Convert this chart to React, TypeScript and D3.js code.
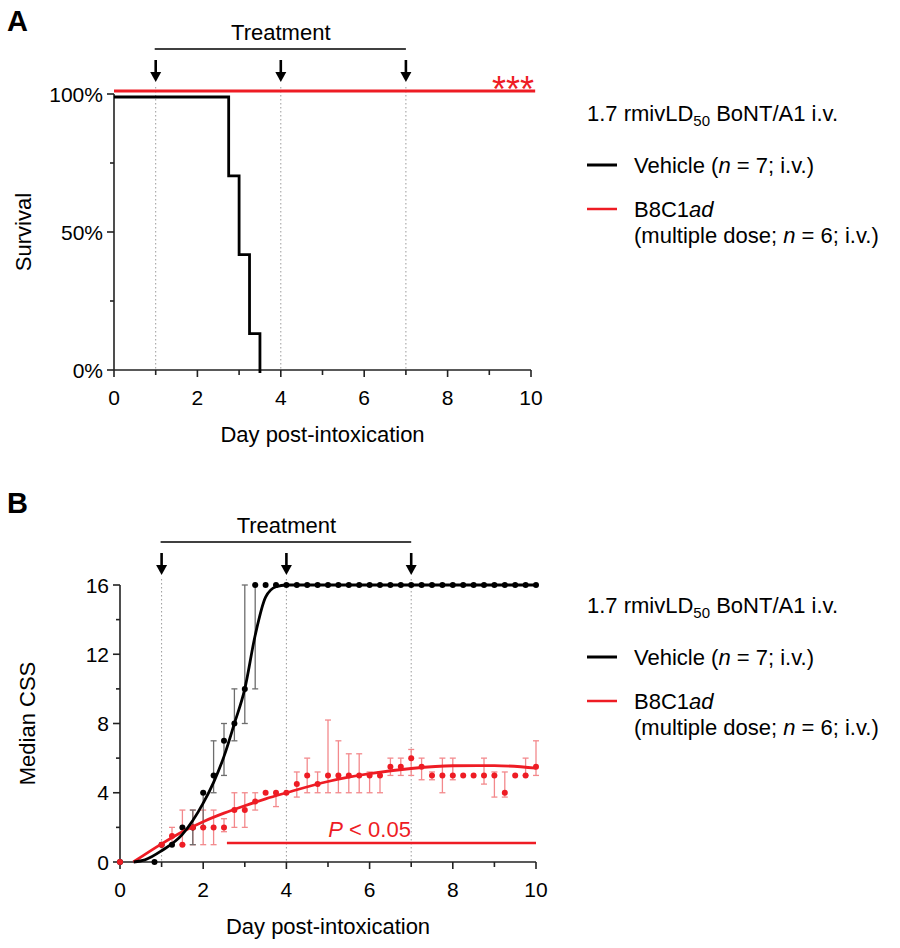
import React from "react";
import * as d3 from "d3";

const FONT = "'Liberation Sans', Arial, Helvetica, sans-serif";
const RED = "#ee1c24";
const RED_LIGHT = "#f3898c";
const GREY = "#6d6d6d";

// shared
const treatmentDays = [1, 4, 7];
const xTicks = [0, 2, 4, 6, 8, 10];
const xMinor = [1, 3, 5, 7, 9];

// Panel A – survival
const survTimes = [0, 2.75, 3.0, 3.25, 3.5];
const survVehicle = [100, 71.43, 42.86, 14.29, 0];
const survB8Times = [0, 10.1];
const survB8 = [100, 100];
const survTicks = [0, 50, 100];
const survMinor = [25, 75];

// Panel B – median CSS
const vehDays = [0, 0.83, 1, 1.25, 1.5, 1.75, 2, 2.25, 2.5, 2.75, 3, 3.25, 3.5, 3.75, 4, 4.25, 4.5, 4.75, 5, 5.25, 5.5, 5.75, 6, 6.25, 6.5, 6.75, 7, 7.25, 7.5, 7.75, 8, 8.25, 8.5, 8.75, 9, 9.25, 9.5, 9.75, 10];
const vehCSS = [0, 0, 1, 1, 2, 2, 4, 5, 7, 8, 10, 16, 16, 16, 16, 16, 16, 16, 16, 16, 16, 16, 16, 16, 16, 16, 16, 16, 16, 16, 16, 16, 16, 16, 16, 16, 16, 16, 16];
const vehErrDays = [1.75, 2, 2.25, 2.5, 2.75, 3, 3.25];
const vehErrLo = [1, 2, 4, 5, 7, 8, 10];
const vehErrHi = [3, 4, 7, 8, 10, 16, 16];
const vehFitDays = [0.33, 0.6, 1, 1.5, 2, 2.25, 2.5, 2.75, 3, 3.25, 3.5, 3.75, 4, 10];
const vehFit = [0, 0.12, 0.65, 1.6, 3.4, 4.6, 6.1, 8.0, 10.0, 13.1, 15.3, 15.9, 16, 16];

const b8Days = [0, 1, 1.25, 1.5, 1.75, 2, 2.25, 2.5, 2.75, 3, 3.25, 3.5, 3.75, 4, 4.25, 4.5, 4.75, 5, 5.25, 5.5, 5.75, 6, 6.25, 6.5, 6.75, 7, 7.25, 7.5, 7.75, 8, 8.25, 8.5, 8.75, 9, 9.25, 9.5, 9.75, 10];
const b8CSS = [0, 1, 1.5, 1, 2, 2, 2, 2, 3, 3, 3.5, 4, 4, 4, 4.5, 5, 4.5, 5, 5, 5, 5, 5, 5, 5.5, 5.5, 6, 5.5, 5, 5, 5, 5, 5, 5, 5, 4, 5, 5, 5.5];
const b8ErrDays = [1.25, 1.5, 1.75, 2, 2.25, 2.5, 2.75, 3, 3.25, 3.75, 4.25, 4.5, 4.75, 5, 5.25, 5.5, 5.75, 6, 6.25, 6.5, 6.75, 7, 7.25, 7.5, 7.75, 8, 8.75, 9, 9.25, 9.75, 10];
const b8ErrLo = [1, 1, 1, 1, 1, 1.75, 2, 2, 3, 3.2, 3.75, 4, 4, 4, 4, 4, 4, 4, 4, 5, 5, 5, 4.75, 4.75, 4, 4.75, 4.5, 3.75, 3.75, 5, 5];
const b8ErrHi = [2, 3, 3, 3, 3, 2.5, 4, 4, 4, 4, 5.2, 6, 5.2, 8.2, 7, 6.25, 6.25, 5.2, 5.2, 6, 6, 6.5, 6, 5.2, 6, 6, 6, 5.2, 5.2, 6, 7];
const b8FitDays = [0.32, 1, 1.5, 2, 2.5, 3, 3.5, 4, 5, 6, 7, 8, 9, 10];
const b8Fit = [0, 1.05, 1.75, 2.33, 2.82, 3.25, 3.65, 4.0, 4.65, 5.1, 5.4, 5.56, 5.57, 5.42];
const cssTicks = [0, 4, 8, 12, 16];
const cssMinor = [2, 6, 10, 14];
const sigStart = 2.57;
const sigEnd = 10;
const sigLevel = 1.1;

function Arrow({ x, y1, y2 }: { x: number; y1: number; y2: number }) {
  const head = 10;
  return (
    <g>
      <line x1={x} x2={x} y1={y1} y2={y2 - head + 1} stroke="#000" strokeWidth={2.6} />
      <path d={`M${x - 5.5},${y2 - head} L${x + 5.5},${y2 - head} L${x},${y2} Z`} fill="#000" />
    </g>
  );
}

function XAxis({ x, y0, labelY, titleY }: any) {
  const [a, b] = x.range();
  return (
    <g>
      <line x1={a} x2={b} y1={y0} y2={y0} stroke="#222" strokeWidth={1.6} />
      {xTicks.map((t) => (
        <g key={t}>
          <line x1={x(t)} x2={x(t)} y1={y0} y2={y0 + 7} stroke="#222" strokeWidth={1.6} />
          <text x={x(t)} y={labelY} textAnchor="middle" fontSize={21} fontFamily={FONT} fill="#000">{t}</text>
        </g>
      ))}
      {xMinor.map((t) => (
        <line key={t} x1={x(t)} x2={x(t)} y1={y0} y2={y0 + 5} stroke="#222" strokeWidth={1.6} />
      ))}
      <text x={(a + b) / 2} y={titleY} textAnchor="middle" fontSize={22} fontFamily={FONT} fill="#000">Day post-intoxication</text>
    </g>
  );
}

function Legend({ x, y }: { x: number; y: number }) {
  return (
    <g fontFamily={FONT} fontSize={22} fill="#000">
      <text x={x} y={y}>
        1.7 rmivLD<tspan fontSize={15} dy={5}>50</tspan><tspan dy={-5}> BoNT/A1 i.v.</tspan>
      </text>
      <line x1={x} x2={x + 30} y1={y + 44} y2={y + 44} stroke="#000" strokeWidth={3} />
      <text x={x + 47} y={y + 52}>
        Vehicle (<tspan fontStyle="italic">n</tspan> = 7; i.v.)
      </text>
      <line x1={x} x2={x + 30} y1={y + 88} y2={y + 88} stroke={RED} strokeWidth={2.5} />
      <text x={x + 47} y={y + 96}>
        B8C1<tspan fontStyle="italic">ad</tspan>
      </text>
      <text x={x + 47} y={y + 122}>
        (multiple dose; <tspan fontStyle="italic">n</tspan> = 6; i.v.)
      </text>
    </g>
  );
}

function Treatment({ x, textY, lineY, arrowTop, arrowTip }: any) {
  return (
    <g>
      <text x={x(4)} y={textY} textAnchor="middle" fontSize={22} fontFamily={FONT} fill="#000">Treatment</text>
      <line x1={x(1) - 1} x2={x(7)} y1={lineY} y2={lineY} stroke="#000" strokeWidth={1.6} />
      {treatmentDays.map((d) => (
        <Arrow key={d} x={x(d)} y1={arrowTop} y2={arrowTip} />
      ))}
    </g>
  );
}

export default function App() {
  // Panel A scales
  const xA = d3.scaleLinear().domain([0, 10]).range([114, 531]);
  const yA = d3.scaleLinear().domain([0, 100]).range([370, 94]);
  // Panel B scales
  const xB = d3.scaleLinear().domain([0, 10]).range([120, 536]);
  const yB = d3.scaleLinear().domain([0, 16]).range([862, 585]);

  const stepLine = d3
    .line<number>()
    .x((_, i) => xA(survTimes[i]))
    .y((d) => yA(d) + 3)
    .curve(d3.curveStepAfter);
  const redSurv = d3
    .line<number>()
    .x((_, i) => xA(survB8Times[i]))
    .y((d) => yA(d) - 3);

  const vehFitLine = d3
    .line<number>()
    .x((_, i) => xB(vehFitDays[i]))
    .y((d) => yB(d))
    .curve(d3.curveMonotoneX);
  const b8FitLine = d3
    .line<number>()
    .x((_, i) => xB(b8FitDays[i]))
    .y((d) => yB(d))
    .curve(d3.curveMonotoneX);

  const cap = 3;

  return (
    <svg width={900} height={948} style={{ position: "absolute", left: 0, top: 0, background: "#fff" }}>
      <rect width={900} height={948} fill="#fff" />
      {/* ---------- Panel A ---------- */}
      <text x={7} y={31} fontSize={29} fontWeight="bold" fontFamily={FONT}>A</text>
      <Treatment x={xA} textY={40} lineY={49} arrowTop={60} arrowTip={82} />
      {treatmentDays.map((d) => (
        <line key={d} x1={xA(d)} x2={xA(d)} y1={87} y2={370} stroke="#9a9a9a" strokeWidth={1} strokeDasharray="1.5,2.5" />
      ))}
      {/* y axis */}
      <line x1={xA(0)} x2={xA(0)} y1={yA(100)} y2={yA(0)} stroke="#222" strokeWidth={1.6} />
      {survTicks.map((t) => (
        <g key={t}>
          <line x1={xA(0) - 7} x2={xA(0)} y1={yA(t)} y2={yA(t)} stroke="#222" strokeWidth={1.6} />
          <text x={xA(0) - 11} y={yA(t) + 7.5} textAnchor="end" fontSize={21} fontFamily={FONT}>{t}%</text>
        </g>
      ))}
      {survMinor.map((t) => (
        <line key={t} x1={xA(0) - 4} x2={xA(0)} y1={yA(t)} y2={yA(t)} stroke="#222" strokeWidth={1.6} />
      ))}
      <text transform={`translate(31,${yA(50)}) rotate(-90)`} textAnchor="middle" fontSize={22} fontFamily={FONT}>Survival</text>
      <XAxis x={xA} y0={yA(0)} labelY={405} titleY={442} />
      <path d={stepLine(survVehicle) || ""} fill="none" stroke="#000" strokeWidth={2.8} />
      <path d={redSurv(survB8) || ""} fill="none" stroke={RED} strokeWidth={2.8} />
      <text x={xA(10) + 3} y={102} textAnchor="end" fontSize={36} fontFamily={FONT} fill={RED}>***</text>
      <Legend x={587} y={121} />

      {/* ---------- Panel B ---------- */}
      <text x={7} y={513} fontSize={29} fontWeight="bold" fontFamily={FONT}>B</text>
      <Treatment x={xB} textY={533} lineY={542} arrowTop={553} arrowTip={575} />
      {treatmentDays.map((d) => (
        <line key={d} x1={xB(d)} x2={xB(d)} y1={579} y2={862} stroke="#9a9a9a" strokeWidth={1} strokeDasharray="1.5,2.5" />
      ))}
      <line x1={xB(0)} x2={xB(0)} y1={yB(16)} y2={yB(0)} stroke="#222" strokeWidth={1.6} />
      {cssTicks.map((t) => (
        <g key={t}>
          <line x1={xB(0) - 7} x2={xB(0)} y1={yB(t)} y2={yB(t)} stroke="#222" strokeWidth={1.6} />
          <text x={xB(0) - 11} y={yB(t) + 7.5} textAnchor="end" fontSize={21} fontFamily={FONT}>{t}</text>
        </g>
      ))}
      {cssMinor.map((t) => (
        <line key={t} x1={xB(0) - 4} x2={xB(0)} y1={yB(t)} y2={yB(t)} stroke="#222" strokeWidth={1.6} />
      ))}
      <text transform={`translate(35,${yB(8)}) rotate(-90)`} textAnchor="middle" fontSize={22} fontFamily={FONT}>Median CSS</text>
      <XAxis x={xB} y0={yB(0)} labelY={897} titleY={934} />

      {/* red series */}
      {b8ErrDays.map((d, i) => (
        <g key={"re" + i} stroke={RED_LIGHT} strokeWidth={1.3}>
          <line x1={xB(d)} x2={xB(d)} y1={yB(b8ErrLo[i])} y2={yB(b8ErrHi[i])} />
          <line x1={xB(d) - cap} x2={xB(d) + cap} y1={yB(b8ErrLo[i])} y2={yB(b8ErrLo[i])} />
          <line x1={xB(d) - cap} x2={xB(d) + cap} y1={yB(b8ErrHi[i])} y2={yB(b8ErrHi[i])} />
        </g>
      ))}
      {/* black error bars */}
      {vehErrDays.map((d, i) => (
        <g key={"be" + i} stroke={GREY} strokeWidth={1.3}>
          <line x1={xB(d)} x2={xB(d)} y1={yB(vehErrLo[i])} y2={yB(vehErrHi[i])} />
          <line x1={xB(d) - cap} x2={xB(d) + cap} y1={yB(vehErrLo[i])} y2={yB(vehErrLo[i])} />
          <line x1={xB(d) - cap} x2={xB(d) + cap} y1={yB(vehErrHi[i])} y2={yB(vehErrHi[i])} />
        </g>
      ))}
      {vehCSS.map((v, i) => (
        <circle key={"bp" + i} cx={xB(vehDays[i])} cy={yB(v)} r={3} fill="#000" />
      ))}
      {b8CSS.map((v, i) => (
        <circle key={"rp" + i} cx={xB(b8Days[i])} cy={yB(v)} r={3} fill={RED} />
      ))}
      <path d={b8FitLine(b8Fit) || ""} fill="none" stroke={RED} strokeWidth={2.8} />
      <path d={vehFitLine(vehFit) || ""} fill="none" stroke="#000" strokeWidth={2.8} />
      <line x1={xB(sigStart)} x2={xB(sigEnd)} y1={yB(sigLevel)} y2={yB(sigLevel)} stroke={RED} strokeWidth={2.6} />
      <text x={xB(6)} y={837} textAnchor="middle" fontSize={22} fontFamily={FONT} fill={RED}>
        <tspan fontStyle="italic">P</tspan> &lt; 0.05
      </text>
      <Legend x={587} y={613} />
    </svg>
  );
}
